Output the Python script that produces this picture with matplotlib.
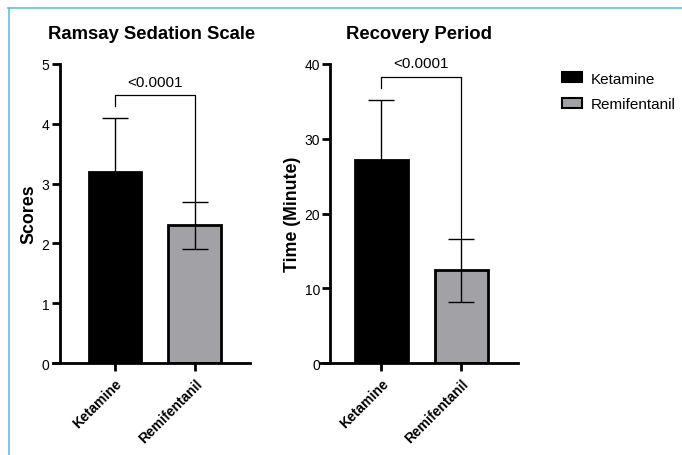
import numpy as np
import matplotlib.pyplot as plt
from matplotlib.lines import Line2D
from matplotlib.patches import Patch

plt.rcParams['font.family'] = ['Liberation Sans', 'DejaVu Sans']

groups = ['Ketamine', 'Remifentanil']
colors = ['#000000', '#a2a2a6']

ramsay_mean = [3.2, 2.3]
ramsay_sd = [0.9, 0.4]
recovery_mean = [27.2, 12.4]
recovery_sd = [8.0, 4.2]
p_text = '<0.0001'

W, H = 682, 456
fig = plt.figure(figsize=(W / 100, H / 100), dpi=100)


def px_axes(x0, x1, y_top, y_bot):
    return fig.add_axes([x0 / W, 1 - y_bot / H, (x1 - x0) / W, (y_bot - y_top) / H])


def panel(ax, means, sds, ymax, step, title, ylabel, spine_x, xlim, bracket):
    x = np.arange(len(groups))
    ax.bar(x, means, width=0.66, color=colors, edgecolor='black', linewidth=2, zorder=2)
    ax.errorbar(x, means, yerr=sds, fmt='none', ecolor='black', elinewidth=1,
                capsize=9.5, capthick=1, zorder=3)
    ax.set_xlim(*xlim)
    ax.set_ylim(0, ymax)
    ax.set_yticks(np.arange(0, ymax + step / 2, step))
    ax.set_xticks(x)
    ax.set_xticklabels(groups, rotation=45, ha='right', rotation_mode='anchor',
                       fontsize=10, fontweight='bold')
    for lab in ax.get_yticklabels():
        lab.set_fontweight('bold')
        lab.set_fontsize(10)
    ax.spines['top'].set_visible(False)
    ax.spines['right'].set_visible(False)
    ax.spines['left'].set_position(('data', spine_x))
    ax.spines['left'].set_linewidth(2)
    ax.spines['bottom'].set_linewidth(2)
    ax.tick_params(width=2, length=5.5, pad=2)
    ax.tick_params(axis='x', pad=4)
    ax.set_title(title, fontsize=13.3, fontweight='bold', pad=18.5)
    ax.set_ylabel(ylabel, fontsize=12.8, fontweight='bold')
    # significance bracket
    top, left_end, right_end = bracket
    ax.plot([0, 0, 1, 1], [left_end, top, top, right_end], color='black', lw=0.9,
            clip_on=False, zorder=4)
    ax.text(0.5, top + ymax * 0.022, p_text, ha='center', va='bottom', fontsize=11)


ax1 = px_axes(53, 250, 65, 364)
panel(ax1, ramsay_mean, ramsay_sd, 5, 1, 'Ramsay Sedation Scale', 'Scores', -0.69,
      (-0.775, 1.69), (4.48, 4.3, ramsay_mean[1] + ramsay_sd[1]))
ax1.yaxis.set_label_coords(-0.078, 0.5)

ax2 = px_axes(320, 518, 65, 364)
panel(ax2, recovery_mean, recovery_sd, 40, 10, 'Recovery Period', 'Time (Minute)', -0.64,
      (-0.77, 1.71), (38.3, 36.8, recovery_mean[1] + recovery_sd[1]))
ax2.yaxis.set_label_coords(-0.094, 0.5)

handles = [Patch(facecolor=c, edgecolor='black', linewidth=1.5) for c in colors]
fig.legend(handles, groups, loc='upper left', bbox_to_anchor=(548 / W, 1 - 59 / H),
           frameon=False, fontsize=11, handlelength=1.3, handleheight=0.65,
           labelspacing=0.75, handletextpad=0.6)

# light blue frame lines
fig.add_artist(Line2D([8 / W, 1], [1 - 9 / H, 1 - 9 / H], color='#5bc4e0', lw=1.2))
fig.add_artist(Line2D([9 / W, 9 / W], [0, 1 - 9 / H], color='#5bc4e0', lw=1.2))

fig.savefig('out.png', dpi=100)
